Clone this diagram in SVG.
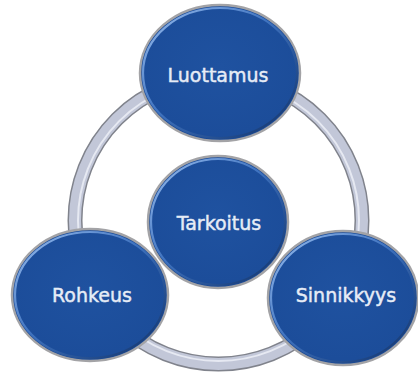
<svg xmlns="http://www.w3.org/2000/svg" width="418" height="374" viewBox="0 0 418 374">
  <defs>
    <linearGradient id="bevel" x1="0" y1="0" x2="1" y2="1">
      <stop offset="0" stop-color="#9cc0f0"/>
      <stop offset="0.45" stop-color="#3f73c0"/>
      <stop offset="1" stop-color="#0e2f66"/>
    </linearGradient>
    <radialGradient id="fillg" cx="0.5" cy="0.45" r="0.6">
      <stop offset="0" stop-color="#1f52a0"/>
      <stop offset="0.85" stop-color="#1c4d9a"/>
      <stop offset="1" stop-color="#17438a"/>
    </radialGradient>
  </defs>
  <style>
    .rim { fill: url(#fillg); stroke: #a3a3a6; stroke-width: 2.5; }
    .bev { fill: none; stroke: url(#bevel); stroke-width: 2.2; }
    .lbl { font-family: "DejaVu Sans", Verdana, sans-serif; font-size: 19px; fill: #e6ecf6; stroke: #e6ecf6; stroke-width: 0.45; text-anchor: middle; }
    .ring-o { fill: none; stroke: #80838c; stroke-width: 15; }
    .ring-i { fill: none; stroke: #c2c7d8; stroke-width: 12; }
    .ring-h { fill: none; stroke: #e6e9f2; stroke-width: 2; }
  </style>
  <g id="connectors">
    <circle class="ring-o" cx="218.5" cy="220.5" r="143.5"/>
    <circle class="ring-i" cx="218.5" cy="220.5" r="143.5"/>
    <circle class="ring-h" cx="218.5" cy="220.5" r="140.5"/>
  </g>
  <g id="tarkoitus">
    <ellipse class="rim" cx="218" cy="222" rx="70" ry="66"/>
    <ellipse class="bev" cx="218" cy="222" rx="67" ry="63"/>
    <text class="lbl" x="219" y="230">Tarkoitus</text>
  </g>
  <g id="luottamus">
    <ellipse class="rim" cx="220" cy="73" rx="80" ry="68"/>
    <ellipse class="bev" cx="220" cy="73" rx="77" ry="65"/>
    <text class="lbl" x="218" y="82">Luottamus</text>
  </g>
  <g id="rohkeus">
    <ellipse class="rim" cx="90" cy="295" rx="78" ry="66"/>
    <ellipse class="bev" cx="90" cy="295" rx="75" ry="63"/>
    <text class="lbl" x="92" y="302">Rohkeus</text>
  </g>
  <g id="sinnikkyys">
    <ellipse class="rim" cx="343" cy="298" rx="75" ry="67"/>
    <ellipse class="bev" cx="343" cy="298" rx="72" ry="64"/>
    <text class="lbl" x="346" y="302">Sinnikkyys</text>
  </g>
</svg>
